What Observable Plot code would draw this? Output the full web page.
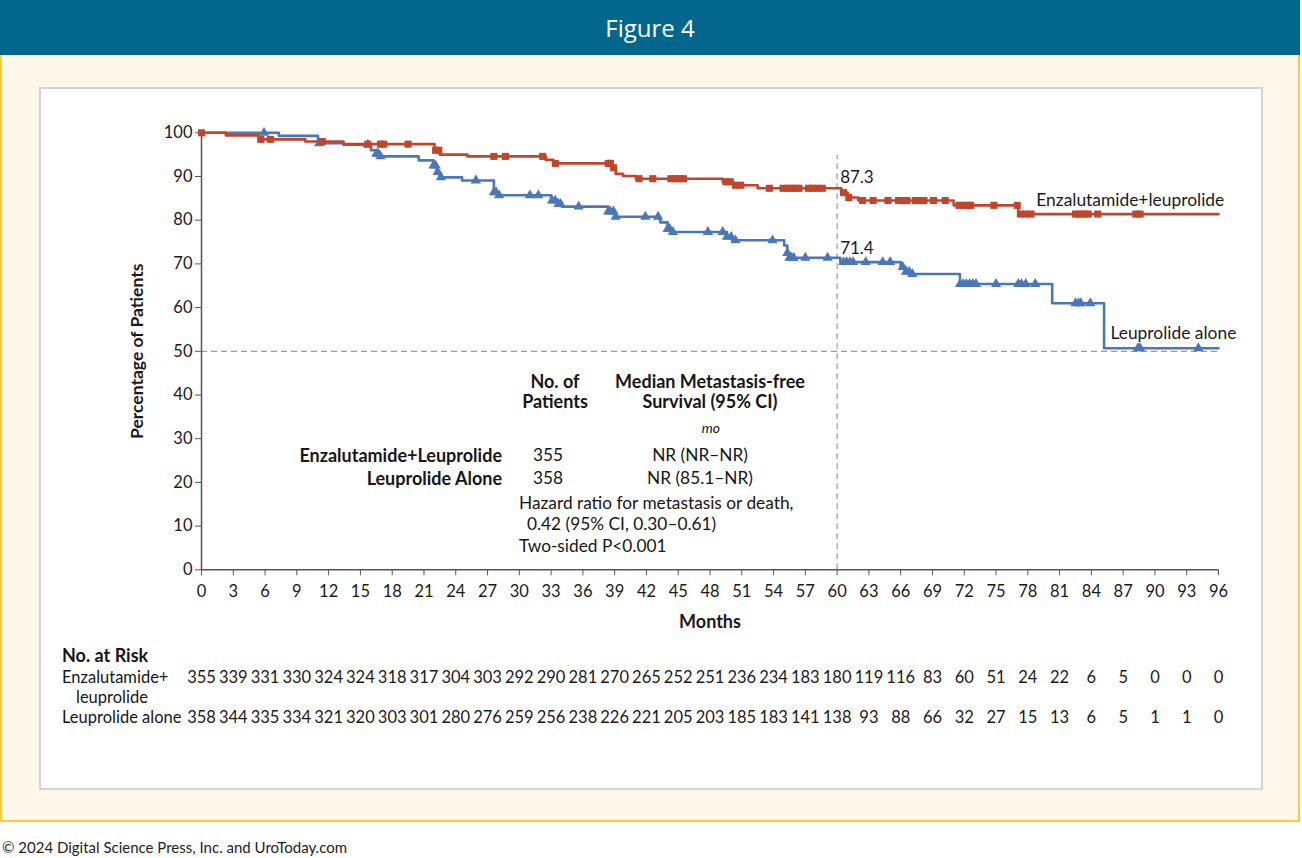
<!DOCTYPE html>
<html><head><meta charset="utf-8">
<script src="https://cdn.jsdelivr.net/npm/d3@7"></script>
<script src="https://cdn.jsdelivr.net/npm/@observablehq/plot@0.6"></script>
<style>
body{margin:0;width:1302px;height:858px;position:relative;background:#fff;font-family:Lato,sans-serif;color:#161616;overflow:hidden}
#header{position:absolute;left:0;top:0;width:1300px;height:55px;background:#03668c;color:#fff;font:24px "Open Sans",sans-serif;text-align:center;line-height:55px}
#panel{position:absolute;left:0;top:55px;width:1296px;height:765px;background:#fff8ea;border:2px solid #f9cc3d;border-top:none}
#box{position:absolute;left:39px;top:87px;width:1220px;height:699px;background:#fff;border:2px solid #d4d4d4}
#chart,#risk{position:absolute;left:0}
#chart{top:0}
#risk{top:650px}
.t{position:absolute;white-space:nowrap;transform:translateY(-50%);font-size:17.3px;line-height:1}
.b{font-weight:bold;font-size:18px}
.c{transform:translate(-50%,-50%);text-align:center}
.r{transform:translate(-100%,-50%);text-align:right}
#footer{position:absolute;left:2px;top:838px;font:15px Lato,sans-serif;color:#222}
</style></head>
<body>
<div id="header">Figure 4</div>
<div id="panel"></div>
<div id="box"></div>
<div id="chart"></div>
<div id="risk"></div>
<div id="notes"></div>
<div id="footer">© 2024 Digital Science Press, Inc. and UroToday.com</div>
<script>
// ---- data ----
const enzTime = [0, 2.3, 5.4, 9.8, 13.4, 22.0, 22.5, 25.1, 32.5, 33.2, 38.7, 39.1, 39.8, 41.0, 49.2, 50.2, 52.5, 60.4, 61.0, 62.0, 71.0, 77.1, 96];
const enzSurv = [100, 99.4, 98.5, 98.0, 97.4, 96.0, 95.0, 94.6, 93.8, 93.0, 92.0, 90.6, 90.1, 89.5, 88.8, 88.0, 87.3, 86.3, 85.2, 84.5, 83.4, 81.4, 81.4];
const leuTime = [0, 7.3, 11.0, 13.4, 16.0, 16.5, 16.9, 20.5, 21.9, 22.2, 22.5, 24.6, 27.6, 28.0, 33.0, 33.6, 34.0, 38.4, 39.0, 43.3, 44.0, 44.4, 49.6, 50.1, 55.0, 55.3, 55.5, 60.3, 66.0, 66.5, 67.1, 71.6, 80.3, 85.2, 96];
const leuSurv = [100, 99.3, 97.6, 97.3, 96.0, 95.2, 94.6, 93.7, 92.5, 91.0, 89.8, 89.1, 86.4, 85.7, 84.5, 83.7, 83.1, 82.0, 80.8, 79.5, 78.0, 77.3, 76.2, 75.4, 74.2, 72.5, 71.4, 70.4, 69.3, 68.2, 67.7, 65.4, 61.0, 50.7, 50.7];
const enzCensor = [0, 5.6, 6.5, 11.4, 15.7, 16.9, 17.2, 19.5, 22.1, 22.4, 27.6, 28.7, 32.2, 33.4, 38.4, 38.6, 38.9, 41.3, 42.6, 44.3, 44.7, 45.1, 45.5, 49.5, 49.9, 50.4, 50.9, 53.6, 54.9, 55.3, 55.7, 56.1, 56.4, 57.3, 57.7, 58.1, 58.6, 60.6, 61.1, 62.4, 63.4, 64.8, 65.8, 66.2, 66.6, 67.4, 67.8, 68.2, 69.1, 70.2, 71.5, 71.9, 72.3, 72.6, 74.8, 77.0, 77.3, 77.8, 78.3, 82.5, 82.9, 83.3, 83.7, 84.6, 88.2, 88.6];
const leuCensor = [5.9, 11.1, 15.7, 16.5, 16.7, 16.9, 21.9, 22.1, 22.3, 22.6, 25.9, 27.6, 27.8, 28.1, 31.0, 31.8, 33.1, 33.4, 33.7, 33.9, 35.6, 38.4, 38.6, 38.9, 39.1, 41.9, 43.1, 44.0, 44.2, 44.5, 47.8, 49.2, 49.6, 50.0, 50.4, 53.9, 55.3, 55.5, 55.7, 55.9, 57.0, 59.1, 60.6, 60.9, 61.2, 61.5, 62.7, 64.3, 65.0, 66.2, 66.5, 66.8, 67.1, 71.6, 71.9, 72.2, 72.5, 72.8, 73.1, 75.0, 77.1, 77.4, 77.8, 78.7, 82.5, 82.8, 83.0, 83.9, 88.4, 88.6, 94.1];
const landmarkMonth = 60;
const landmarkLabels = ["87.3", "71.4"];
const medianLevel = 50;
const xTicks = d3.range(0, 97, 3);
const yTicks = d3.range(0, 101, 10);
const riskMonths = d3.range(0, 97, 3);
const enzRisk = [355,339,331,330,324,324,318,317,304,303,292,290,281,270,265,252,251,236,234,183,180,119,116,83,60,51,24,22,6,5,0,0,0];
const leuRisk = [358,344,335,334,321,320,303,301,280,276,259,256,238,226,221,205,203,185,183,141,138,93,88,66,32,27,15,13,6,5,1,1,0];

const RED = "#c1442d", BLUE = "#4b77b6";

// ---- build tables ----
const steps = (T, S) => T.map((t, i) => ({t, s: S[i]}));
const lookup = (T, S) => t => { let v = S[0]; for (let i = 0; i < T.length; i++) if (T[i] <= t) v = S[i]; return v; };
const enzSteps = steps(enzTime, enzSurv), leuSteps = steps(leuTime, leuSurv);
const fe = lookup(enzTime, enzSurv), fl = lookup(leuTime, leuSurv);
const enzCens = enzCensor.map(t => ({t, s: fe(t)}));
const leuCens = leuCensor.map(t => ({t, s: fl(t)}));
const riskRows = [
  ...riskMonths.map((m, i) => ({m, arm: "enz", n: enzRisk[i]})),
  ...riskMonths.map((m, i) => ({m, arm: "leu", n: leuRisk[i]}))
];

const H = 640;
const main = Plot.plot({
  width: 1302, height: H,
  marginLeft: 201, marginRight: 84, marginTop: 132.3, marginBottom: H - 569.3,
  x: {domain: [0, 96]}, y: {domain: [0, 100]},
  style: {background: "transparent", fontFamily: "Lato, sans-serif", fontSize: "16.5px", color: "#1a1a1a", overflow: "visible"},
  marks: [
    Plot.ruleY([medianLevel], {stroke: "#9b9b9b", strokeWidth: 1.2, strokeDasharray: "6,4"}),
    Plot.ruleX([landmarkMonth], {y1: 0, y2: 94.8, stroke: "#9b9b9b", strokeWidth: 1.2, strokeDasharray: "6,4"}),
    Plot.axisY({ticks: yTicks, tickSize: 6, tickPadding: 3, label: null, stroke: "#555", fontSize: 16.5}),
    Plot.axisX({ticks: xTicks, tickSize: 6, tickPadding: 9, label: null, stroke: "#555", fontSize: 16.5}),
    Plot.ruleX([0], {stroke: "#555", strokeWidth: 1.5}),
    Plot.ruleY([0], {stroke: "#555", strokeWidth: 1.5}),
    Plot.line(leuSteps, {x: "t", y: "s", curve: "step-after", stroke: BLUE, strokeWidth: 2.6}),
    Plot.line(enzSteps, {x: "t", y: "s", curve: "step-after", stroke: RED, strokeWidth: 2.6}),
    Plot.dot(leuCens, {x: "t", y: "s", symbol: "triangle", r: 3.8, fill: BLUE, stroke: null}),
    Plot.dot(enzCens, {x: "t", y: "s", symbol: "square", r: 4, fill: RED, stroke: null}),
    Plot.text([landmarkLabels[0]], {x: landmarkMonth, y: 89.8, text: d => d, textAnchor: "start", dx: 3, fontSize: 17}),
    Plot.text([landmarkLabels[1]], {x: landmarkMonth, y: 73.5, text: d => d, textAnchor: "start", dx: 3, fontSize: 17}),
    Plot.text(["Enzalutamide+leuprolide"], {x: 78.8, y: 84.5, text: d => d, textAnchor: "start", fontSize: 17.4}),
    Plot.text(["Leuprolide alone"], {x: 85.8, y: 54.0, text: d => d, textAnchor: "start", fontSize: 17.4}),
    Plot.text(["Months"], {frameAnchor: "bottom", text: d => d, dy: 58, fontWeight: "bold", fontSize: 18}),
    Plot.text(["Percentage of Patients"], {frameAnchor: "left", textAnchor: "middle", text: d => d, dx: -64, rotate: -90, fontWeight: "bold", fontSize: 17.5})
  ]
});
document.getElementById("chart").appendChild(main);

const risk = Plot.plot({
  width: 1302, height: 90,
  marginLeft: 201, marginRight: 84, marginTop: 0, marginBottom: 0,
  x: {domain: [0, 96], axis: null},
  y: {type: "point", domain: ["enz", "leu"], range: [27, 67], padding: 0, axis: null},
  style: {background: "transparent", fontFamily: "Lato, sans-serif", fontSize: "16.5px", color: "#1a1a1a", overflow: "visible"},
  marks: [Plot.text(riskRows, {x: "m", y: "arm", text: "n", fontSize: 16.5})]
});
document.getElementById("risk").appendChild(risk);

// ---- annotations (HTML text) ----
const notes = [
  ["No. of", 555, 381, "b c"], ["Patients", 555, 401, "b c"],
  ["Median Metastasis-free", 710, 381, "b c"], ["Survival (95% CI)", 710, 401, "b c"],
  ["mo", 711, 428, "c i"],
  ["Enzalutamide+Leuprolide", 502, 455, "b r"], ["Leuprolide Alone", 502, 478, "b r"],
  ["355", 533, 455, ""], ["358", 533, 478, ""],
  ["NR (NR–NR)", 700, 455, "c"], ["NR (85.1–NR)", 700, 478, "c"],
  ["Hazard ratio for metastasis or death,", 519, 503, ""],
  ["0.42 (95% CI, 0.30–0.61)", 527, 524, ""],
  ["Two-sided P<0.001", 519, 546, ""],
  ["No. at Risk", 62, 655, "b"],
  ["Enzalutamide+", 62, 677, ""], ["leuprolide", 76, 697, ""], ["Leuprolide alone", 62, 717, ""]
];
const nd = document.getElementById("notes");
for (const [txt, x, y, cls] of notes) {
  const d = document.createElement("div");
  d.className = "t " + cls;
  d.style.left = x + "px"; d.style.top = y + "px";
  if (cls.includes("i")) { d.style.fontStyle = "italic"; d.style.fontSize = "14px"; }
  if (y > 660) d.style.fontSize = "16.5px";
  if (txt === "No. at Risk") d.style.fontSize = "18px";
  d.textContent = txt;
  nd.appendChild(d);
}
</script>
</body></html>
